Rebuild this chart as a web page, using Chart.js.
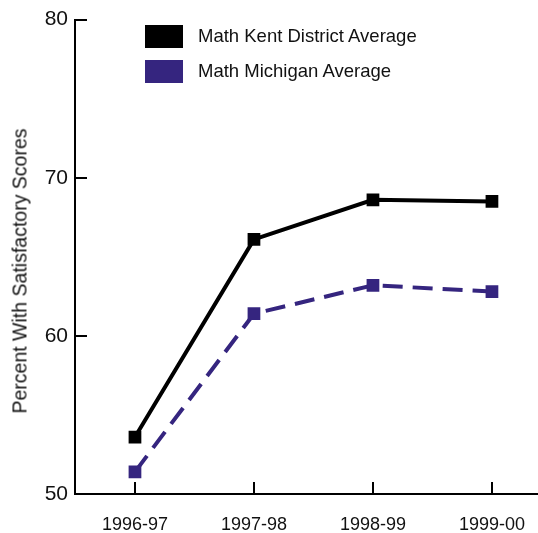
<!DOCTYPE html>
<html>
<head>
<meta charset="utf-8">
<script src="https://cdn.jsdelivr.net/npm/chart.js@4/dist/chart.umd.min.js"></script>
<style>
  body { margin: 0; background: #fff; font-family: "Liberation Sans", Arial, sans-serif; }
  #wrap { position: relative; width: 538px; height: 533px; }
  #chart { position: absolute; left: 0; top: 0; }
  .legend-item { position: absolute; left: 145px; height: 24px; display: flex; align-items: center; }
  .legend-box { width: 38px; height: 23px; margin-right: 15px; }
  .legend-text { font-size: 18.5px; color: #111; white-space: nowrap; }
  #ytitle {
    position: absolute; left: 20px; top: 271px; font-size: 19.5px; color: #111;
    white-space: nowrap; transform: translate(-50%, -50%) rotate(-90deg);
  }
</style>
</head>
<body>
<div id="wrap">
  <canvas id="chart" width="538" height="533"></canvas>
  <div id="legend"></div>
  <div id="ytitle">Percent With Satisfactory Scores</div>
</div>
<script>
// ========================================
// Math satisfactory scores, Kent vs Michigan
// ========================================
const seasons = ['1996-97', '1997-98', '1998-99', '1999-00'];
const kentAvg = [53.6, 66.1, 68.6, 68.5];
const michiganAvg = [51.4, 61.4, 63.2, 62.8];
const yTicks = [50, 60, 70, 80];
const seriesNames = ['Math Kent District Average', 'Math Michigan Average'];

const KENT_COLOR = '#000000';
const MICH_COLOR = '#35257f';
const FONT = '"Liberation Sans", Arial, sans-serif';

// inward tick marks on both axes
const innerTicks = {
  id: 'innerTicks',
  afterDraw(chart) {
    const { ctx, chartArea, scales } = chart;
    ctx.save();
    ctx.strokeStyle = '#000';
    ctx.lineWidth = 2;
    scales.x.ticks.forEach(t => {
      const px = Math.round(scales.x.getPixelForValue(t.value));
      ctx.beginPath();
      ctx.moveTo(px, chartArea.bottom);
      ctx.lineTo(px, chartArea.bottom - 12);
      ctx.stroke();
    });
    scales.y.ticks.forEach(t => {
      const py = Math.round(scales.y.getPixelForValue(t.value));
      ctx.beginPath();
      ctx.moveTo(chartArea.left, py);
      ctx.lineTo(chartArea.left + 12, py);
      ctx.stroke();
    });
    ctx.restore();
  }
};

const toPoints = vals => vals.map((v, i) => ({ x: i, y: v }));

const chart = new Chart(document.getElementById('chart'), {
  type: 'line',
  data: {
    datasets: [
      {
        label: seriesNames[0],
        data: toPoints(kentAvg),
        borderColor: KENT_COLOR,
        backgroundColor: KENT_COLOR,
        borderWidth: 4,
        pointStyle: 'rect',
        pointRadius: 9,
        pointBorderWidth: 0,
        tension: 0,
      },
      {
        label: seriesNames[1],
        data: toPoints(michiganAvg),
        borderColor: MICH_COLOR,
        backgroundColor: MICH_COLOR,
        borderWidth: 4,
        borderDash: [20, 10],
        pointStyle: 'rect',
        pointRadius: 9,
        pointBorderWidth: 0,
        tension: 0,
      }
    ]
  },
  options: {
    responsive: false,
    animation: false,
    layout: { autoPadding: false, padding: { top: 17, right: 0, bottom: 0, left: 0 } },
    plugins: {
      legend: { display: false },
      tooltip: { enabled: false },
    },
    scales: {
      x: {
        type: 'linear',
        min: -0.504,
        max: 3.387,
        afterBuildTicks: (scale) => { scale.ticks = seasons.map((s, i) => ({ value: i })); },
        afterFit: (scale) => {
          scale.height = 39;
          scale.paddingLeft = 0;
          scale.paddingRight = 0;
        },
        grid: { display: false, drawTicks: false },
        border: { color: '#000', width: 2 },
        ticks: {
          color: '#111',
          padding: 20,
          autoSkip: false,
          maxRotation: 0,
          font: { family: FONT, size: 18 },
          callback: (v) => seasons[v] ?? '',
        }
      },
      y: {
        min: 50,
        max: 80,
        afterBuildTicks: (scale) => { scale.ticks = yTicks.map(v => ({ value: v })); },
        afterFit: (scale) => { scale.width = 75; },
        grid: { display: false, drawTicks: false },
        border: { color: '#000', width: 2 },
        ticks: {
          color: '#111',
          padding: 7,
          font: { family: FONT, size: 21 },
        }
      }
    }
  },
  plugins: [innerTicks]
});

// legend as html, built from the datasets
const legendEl = document.getElementById('legend');
legendEl.innerHTML = chart.data.datasets.map((ds, i) => `
  <div class="legend-item" style="top: ${24 + i * 35}px;">
    <div class="legend-box" style="background: ${ds.backgroundColor};"></div>
    <span class="legend-text">${ds.label}</span>
  </div>
`).join('');
</script>
</body>
</html>
